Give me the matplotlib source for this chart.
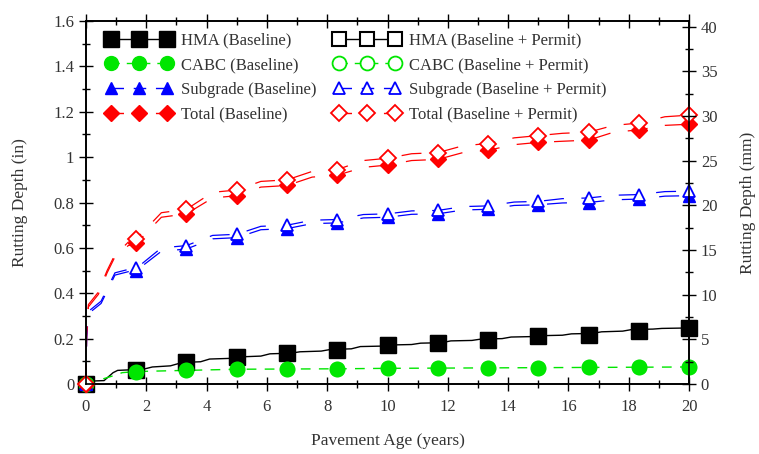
import matplotlib
matplotlib.use("Agg")
import matplotlib.pyplot as plt
from matplotlib.ticker import MultipleLocator

plt.rcParams['font.family'] = ['Liberation Serif', 'DejaVu Serif']

# ---- marker data (years, inches) ----
mk_years = [0, 1.67, 3.33, 5, 6.67, 8.33, 10, 11.67, 13.33, 15, 16.67, 18.33, 20]
hma_base = [0, 0.06, 0.095, 0.12, 0.135, 0.15, 0.17, 0.18, 0.195, 0.21, 0.215, 0.235, 0.245]
hma_perm = [0, 0.06, 0.095, 0.12, 0.135, 0.15, 0.17, 0.18, 0.195, 0.21, 0.215, 0.235, 0.245]
cabc_base = [0, 0.055, 0.06, 0.065, 0.066, 0.067, 0.069, 0.07, 0.071, 0.072, 0.073, 0.074, 0.075]
cabc_perm = [0, 0.055, 0.06, 0.065, 0.066, 0.067, 0.069, 0.07, 0.071, 0.072, 0.073, 0.074, 0.075]
sub_base = [0, 0.50, 0.595, 0.645, 0.685, 0.71, 0.735, 0.75, 0.77, 0.79, 0.80, 0.815, 0.83]
sub_perm = [0, 0.51, 0.61, 0.66, 0.70, 0.725, 0.75, 0.765, 0.785, 0.805, 0.82, 0.835, 0.85]
tot_base = [0, 0.62, 0.75, 0.83, 0.875, 0.92, 0.965, 0.99, 1.03, 1.065, 1.075, 1.12, 1.145]
tot_perm = [0, 0.64, 0.77, 0.855, 0.90, 0.945, 0.995, 1.02, 1.06, 1.095, 1.11, 1.15, 1.185]

# ---- curve data ----
hma_cx = [0, 0.6, 0.9, 1.05, 1.9, 2.2, 2.8, 3.2, 3.8, 4.1, 4.8, 5.2, 5.8, 6.1, 6.8, 7.1, 7.8, 8.1,
          8.8, 9.1, 9.8, 10.1, 10.8, 11.1, 11.8, 12.1, 12.8, 13.1, 13.8, 14.1, 14.8, 15.1, 15.8,
          16.1, 16.8, 17.1, 17.8, 18.1, 18.8, 19.1, 20]
hma_cy = [0.012, 0.015, 0.05, 0.06, 0.065, 0.075, 0.08, 0.095, 0.098, 0.11, 0.113, 0.12, 0.123,
          0.133, 0.136, 0.142, 0.145, 0.152, 0.155, 0.165, 0.167, 0.172, 0.174, 0.18, 0.182,
          0.19, 0.192, 0.198, 0.2, 0.207, 0.209, 0.213, 0.215, 0.221, 0.223, 0.23, 0.233,
          0.24, 0.242, 0.245, 0.247]
cabc_cx = [0, 0.5, 1.0, 1.2, 1.67, 3.33, 5, 6.67, 8.33, 10, 11.67, 13.33, 15, 16.67, 18.33, 20]
cabc_cy = [0, 0.02, 0.04, 0.05, 0.055, 0.06, 0.065, 0.066, 0.067, 0.069, 0.07, 0.071, 0.072,
           0.073, 0.074, 0.075]
sub_cx = [0, 0.02, 0.08, 0.5, 0.96, 1.4, 1.67, 2.5, 3.33, 4.2, 5, 5.8, 6.67, 7.5, 8.33, 9.2, 10,
          10.8, 11.67, 12.5, 13.33, 14.2, 15, 15.8, 16.67, 17.5, 18.33, 19.2, 20]
sub_base_cy = [0, 0.2, 0.31, 0.355, 0.48, 0.495, 0.50, 0.585, 0.595, 0.64, 0.645, 0.68, 0.685,
               0.707, 0.71, 0.732, 0.735, 0.748, 0.75, 0.767, 0.77, 0.787, 0.79, 0.798, 0.80,
               0.812, 0.815, 0.828, 0.83]
sub_perm_cy = [0, 0.21, 0.32, 0.365, 0.49, 0.505, 0.51, 0.60, 0.61, 0.655, 0.66, 0.695, 0.70,
               0.722, 0.725, 0.747, 0.75, 0.763, 0.765, 0.782, 0.785, 0.802, 0.805, 0.817, 0.82,
               0.832, 0.835, 0.848, 0.85]
tot_cx = [0, 0.02, 0.08, 0.41, 0.7, 0.94, 1.4, 1.67, 2.5, 3.33, 4.2, 5, 5.8, 6.67, 7.5, 8.33,
          9.2, 10, 10.8, 11.67, 12.5, 13.33, 14.2, 15, 15.8, 16.67, 17.5, 18.33, 19.2, 20]
tot_base_cy = [0, 0.22, 0.34, 0.395, 0.49, 0.555, 0.61, 0.62, 0.735, 0.75, 0.82, 0.83, 0.868,
               0.875, 0.912, 0.92, 0.955, 0.965, 0.985, 0.99, 1.02, 1.03, 1.055, 1.065, 1.07,
               1.075, 1.11, 1.12, 1.14, 1.145]
tot_perm_cy = [0, 0.23, 0.35, 0.405, 0.50, 0.565, 0.625, 0.64, 0.755, 0.77, 0.845, 0.855, 0.893,
               0.90, 0.937, 0.945, 0.985, 0.995, 1.015, 1.02, 1.05, 1.06, 1.085, 1.095, 1.105,
               1.11, 1.14, 1.15, 1.178, 1.185]

RED = '#ff0000'
BLUE = '#0000ff'
GREEN = '#00e600'

fig = plt.figure(figsize=(7.59, 4.54), dpi=100)
ax = fig.add_axes([0.1133, 0.1542, 0.7945, 0.7995])

dash = (0, (16, 14))
lw = 0.9

# curves
ax.plot(hma_cx, hma_cy, color='black', lw=1.0, zorder=2)
ax.plot(cabc_cx, cabc_cy, color=GREEN, lw=1.0, ls=(0, (7, 6)), zorder=2)
ax.plot(sub_cx, sub_base_cy, color=BLUE, lw=lw, ls=dash, zorder=2, clip_on=False)
ax.plot(sub_cx, sub_perm_cy, color=BLUE, lw=lw, ls=dash, zorder=2, clip_on=False)
ax.plot(tot_cx, tot_base_cy, color=RED, lw=lw, ls=dash, zorder=2, clip_on=False)
ax.plot(tot_cx, tot_perm_cy, color=RED, lw=lw, ls=dash, zorder=2, clip_on=False)

# markers
kw = dict(ls='none', clip_on=False, zorder=4)
ax.plot(mk_years, hma_perm, marker='s', ms=10, mfc='white', mec='black', mew=1.5, **kw)
ax.plot(mk_years, hma_base, marker='s', ms=11, color='black', **kw)
ax.plot(mk_years, cabc_perm, marker='o', ms=10, mfc='white', mec=GREEN, mew=1.5, **kw)
ax.plot(mk_years, cabc_base, marker='o', ms=10, color=GREEN, **kw)
ax.plot(mk_years, sub_base, marker='^', ms=9, color=BLUE, **kw)
ax.plot(mk_years, sub_perm, marker='^', ms=9, mfc='white', mec=BLUE, mew=1.3, **kw)
ax.plot(mk_years, tot_base, marker='D', ms=8, color=RED, **kw)
ax.plot(mk_years, tot_perm, marker='D', ms=8, mfc='white', mec=RED, mew=1.3, **kw)

# legend handles
h = []
h.append(ax.plot([], [], color='black', lw=1.0, marker='s', ms=11)[0])
h.append(ax.plot([], [], color=GREEN, lw=1.0, ls=(0, (6, 5)), marker='o', ms=10)[0])
h.append(ax.plot([], [], color=BLUE, lw=1.0, ls=(0, (9, 7)), marker='^', ms=9)[0])
h.append(ax.plot([], [], color=RED, lw=1.0, ls=(0, (9, 7)), marker='D', ms=8)[0])
h.append(ax.plot([], [], color='black', lw=1.0, marker='s', ms=10, mfc='white', mec='black', mew=1.5)[0])
h.append(ax.plot([], [], color=GREEN, lw=1.0, ls=(0, (6, 5)), marker='o', ms=10, mfc='white', mec=GREEN, mew=1.3)[0])
h.append(ax.plot([], [], color=BLUE, lw=1.0, ls=(0, (9, 7)), marker='^', ms=9, mfc='white', mec=BLUE, mew=1.3)[0])
h.append(ax.plot([], [], color=RED, lw=1.0, ls=(0, (9, 7)), marker='D', ms=8, mfc='white', mec=RED, mew=1.3)[0])
labels = ['HMA (Baseline)', 'CABC (Baseline)', 'Subgrade (Baseline)', 'Total (Baseline)',
          'HMA (Baseline + Permit)', 'CABC (Baseline + Permit)',
          'Subgrade (Baseline + Permit)', 'Total (Baseline + Permit)']
leg = ax.legend(h, labels, ncol=2, loc='upper left', bbox_to_anchor=(0.008, 1.010),
                frameon=False, numpoints=3, handlelength=4.0, handletextpad=0.5,
                columnspacing=1.05, labelspacing=0.52, fontsize=12)
for t in leg.get_texts():
    t.set_color('#333333')

ax.set_xlim(0, 20)
ax.set_ylim(0, 1.6)
ax.xaxis.set_major_locator(MultipleLocator(2))
ax.xaxis.set_minor_locator(MultipleLocator(1))
ax.yaxis.set_minor_locator(MultipleLocator(0.1))
ax.set_yticks([0, 0.2, 0.4, 0.6, 0.8, 1.0, 1.2, 1.4, 1.6])
ax.set_yticklabels(['0', '0.2', '0.4', '0.6', '0.8', '1', '1.2', '1.4', '1.6'])
ax.tick_params(axis='both', which='major', direction='inout', length=10, width=1,
               labelsize=12, colors='black', labelcolor='#333333')
ax.tick_params(axis='both', which='minor', direction='inout', length=6, width=1)
ax.tick_params(axis='x', which='both', top=True)
ax.tick_params(axis='x', which='major', pad=6)
ax.set_xlabel('Pavement Age (years)', fontsize=12.5, color='#333333', labelpad=13)
ax.set_ylabel('Rutting Depth (in)', fontsize=12.5, color='#333333', labelpad=18)
for s in ax.spines.values():
    s.set_linewidth(1.2)

ax2 = ax.twinx()
ax2.set_ylim(0, 1.6 * 25.4)
ax2.yaxis.set_major_locator(MultipleLocator(5))
ax2.yaxis.set_minor_locator(MultipleLocator(2.5))
ax2.tick_params(axis='y', which='major', direction='inout', length=10, width=1,
                labelsize=12, labelcolor='#333333')
ax2.tick_params(axis='y', which='minor', direction='inout', length=6, width=1)
ax2.set_ylabel('Rutting Depth (mm)', fontsize=12.5, color='#333333', labelpad=16)
for s in ax2.spines.values():
    s.set_linewidth(1.2)

fig.savefig('out.png', dpi=100)
